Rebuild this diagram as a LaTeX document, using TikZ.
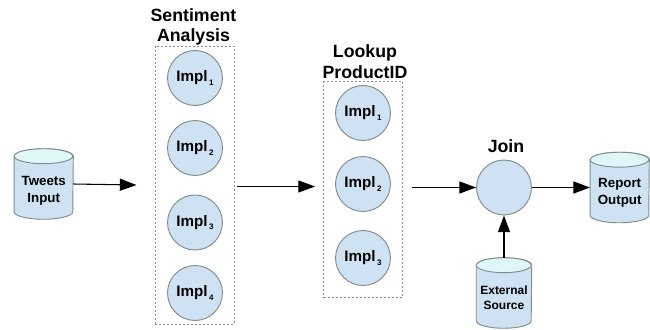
\documentclass[tikz,border=0pt]{standalone}
\usepackage{fontspec}
\setmainfont{Liberation Sans}
\usetikzlibrary{arrows.meta}
\definecolor{fillb}{HTML}{CFE2F3}
\definecolor{filltop}{HTML}{E0F7FA}
\definecolor{edge}{HTML}{7F8C8D}
\newcommand{\implsub}[1]{Impl\hspace{1.2pt}\raisebox{-2.8pt}{\fontsize{6}{7}\selectfont #1}}
\newcommand{\drawdb}[2]{%
  \draw[dbline,fill=fillb] ([yshift=-5.6pt]#1.north west) -- ([yshift=5.6pt]#1.south west)
    arc[start angle=180,end angle=360,x radius=#2,y radius=5.6pt]
    -- ([yshift=-5.6pt]#1.north east)
    arc[start angle=0,end angle=180,x radius=#2,y radius=5.6pt] -- cycle;
  \draw[dbline,fill=filltop] ([yshift=-5.6pt]#1.north west)
    arc[start angle=180,end angle=540,x radius=#2,y radius=5.6pt] -- cycle;
}
\tikzset{
  every node/.style={font=\bfseries},
  impl/.style={circle,draw=edge,line width=0.7pt,fill=fillb,minimum size=41.2pt,inner sep=0pt,font=\bfseries\fontsize{11.4}{13}\selectfont},
  db/.style={rectangle,inner sep=0pt,minimum width=44pt,minimum height=52.5pt},
  dbline/.style={draw=edge,line width=0.7pt},
  dbtext/.style={align=center,inner sep=0pt,font=\bfseries\fontsize{10}{12.4}\selectfont},
  group/.style={draw=black!45,line width=0.6pt,dash pattern=on 1.5pt off 1.5pt},
  title/.style={align=center,font=\bfseries\fontsize{13.3}{15.4}\selectfont},
  flow/.style={-{Triangle[length=12.5pt,width=9pt]},line width=0.8pt,black}
}
\begin{document}
\begin{tikzpicture}[x=0.75pt,y=-0.75pt]
\useasboundingbox (0,0) rectangle (650,329);
\node[group,minimum width=59.25pt,minimum height=208.5pt,inner sep=0pt] (box1) at (194.5,185) {};
\node[group,minimum width=59pt,minimum height=161.6pt,inner sep=0pt] (box2) at (363.2,189.2) {};
\node[impl] (a1) at (195,78) {\implsub{1}};
\node[impl] (a2) at (195,148) {\implsub{2}};
\node[impl] (a3) at (195,222.5) {\implsub{3}};
\node[impl] (a4) at (195,293) {\implsub{4}};
\node[impl] (b1) at (363,113) {\implsub{1}};
\node[impl] (b2) at (363,184) {\implsub{2}};
\node[impl] (b3) at (363,258) {\implsub{3}};
\node[impl] (join) at (504,187.5) {};
\node[db] (tw) at (43.7,184) {};
\node[db] (rep) at (619.7,187.5) {};
\node[db,minimum width=41.2pt] (ext) at (504,293) {};
\drawdb{tw}{22pt}
\drawdb{rep}{22pt}
\drawdb{ext}{20.6pt}
\node[dbtext] (twt) at (43.7,191) {Tweets\\Input};
\node[dbtext] (rept) at (619.7,193) {Report\\Output};
\node[dbtext,font=\bfseries\fontsize{9}{11.2}\selectfont] (extt) at (504,298) {External\\Source};
\node[title] (t1) at (193.5,27) {Sentiment\\Analysis};
\node[title] (t2) at (365,61.5) {Lookup\\ProductID};
\node[title] (t3) at (506,146) {Join};
\coordinate (c1) at (136.5,185);
\coordinate (c2) at (237,186.5);
\coordinate (c3) at (315,186.5);
\coordinate (c4) at (412,187.5);
\draw[flow] (tw.east |- 0,184) -- (c1);
\draw[flow] (c2) -- (c3);
\draw[flow] (c4) -- (join);
\draw[flow] (join) -- (rep);
\draw[flow] (ext) -- (join);
\end{tikzpicture}
\end{document}
